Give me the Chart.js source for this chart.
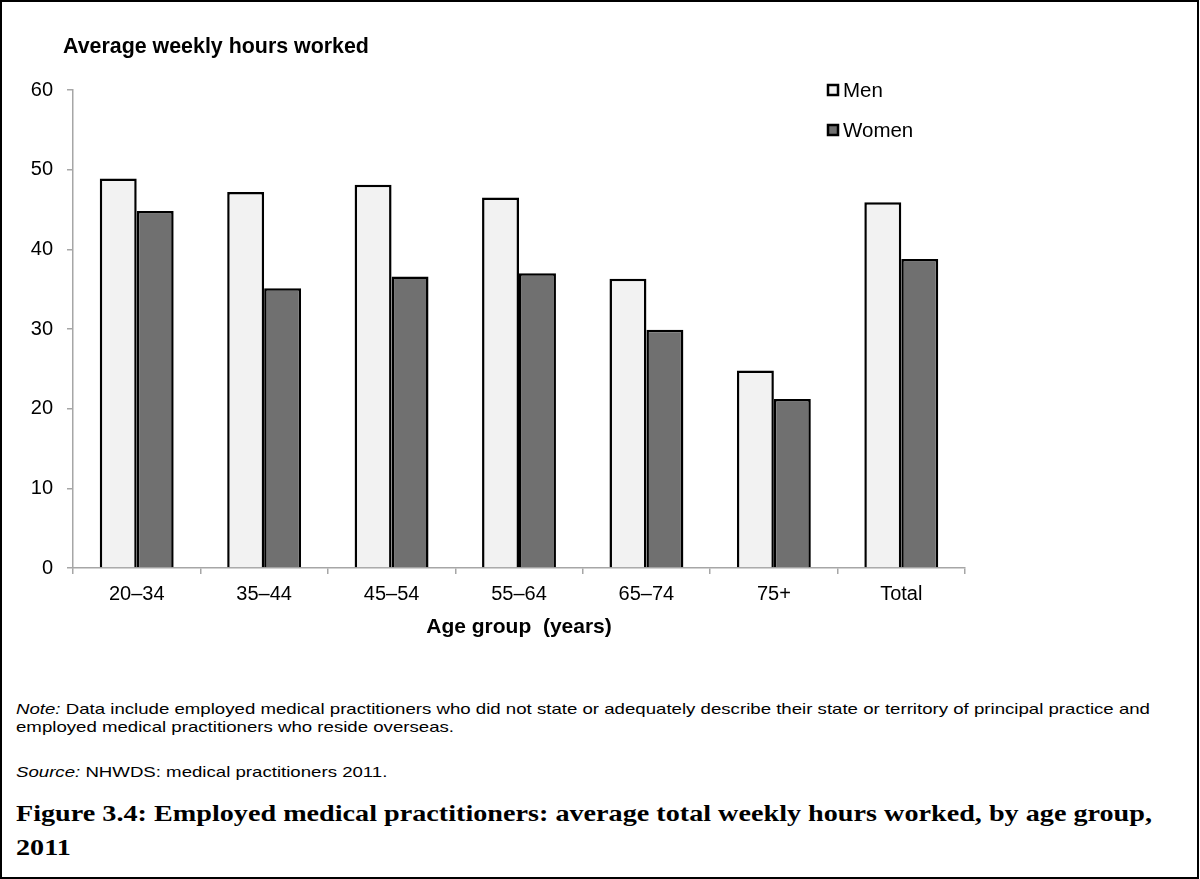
<!DOCTYPE html>
<html>
<head>
<meta charset="utf-8">
<title>Employed medical practitioners: average weekly hours by age group, 2011</title>
<script src="https://cdn.jsdelivr.net/npm/chart.js@4.4.1/dist/chart.umd.min.js"></script>
<style>
  html, body { margin: 0; padding: 0; background: #fff; }
  #frame { position: absolute; left: 0; top: 0; width: 1199px; height: 879px; box-sizing: border-box; border: 2.5px solid #000; }
  #plot { position: absolute; left: 0; top: 0; width: 1200px; height: 660px; }
  .line { position: absolute; left: 16px; white-space: nowrap; transform-origin: 0 0; color: #000; }
  .note { font-family: 'Liberation Sans', Arial, sans-serif; font-size: 15px; line-height: 15px; }
  .fig { font-family: 'Liberation Serif', 'Times New Roman', serif; font-weight: bold; font-size: 22.5px; line-height: 22.5px; }
</style>
</head>
<body>
<div id="frame"></div>
<div id="plot"><canvas id="chart" width="1200" height="660"></canvas></div>

<div class="line note" id="note1" style="top:701px"><i>Note:</i> Data include employed medical practitioners who did not state or adequately describe their state or territory of principal practice and</div>
<div class="line note" id="note2" style="top:719px">employed medical practitioners who reside overseas.</div>
<div class="line note" id="source" style="top:764px"><i>Source:</i> NHWDS: medical practitioners 2011.</div>
<div class="line fig" id="fig1" style="top:803px">Figure 3.4: Employed medical practitioners: average total weekly hours worked, by age group,</div>
<div class="line fig" id="fig2" style="top:837px">2011</div>

<script>
// Age groups and average weekly hours worked
const ageGroups = ['20–34', '35–44', '45–54', '55–64', '65–74', '75+', 'Total'];
const menHours = [48.9, 47.2, 48.1, 46.5, 36.3, 24.8, 45.9];
const womenHours = [44.8, 35.1, 36.6, 37.0, 29.9, 21.2, 38.8];
const hourTicks = [0, 10, 20, 30, 40, 50, 60];
const seriesNames = ['Men', 'Women'];
const yCaption = 'Average weekly hours worked';
const xCaption = 'Age group  (years)';

const SANS = "'Liberation Sans', Arial, sans-serif";
const AXIS_GREY = '#a6a6a6';

// Caption above the value axis
const captionPlugin = {
  id: 'valueCaption',
  afterDraw(chart) {
    const ctx = chart.ctx;
    ctx.save();
    ctx.font = `bold 21.4px ${SANS}`;
    ctx.fillStyle = '#000';
    ctx.textAlign = 'left';
    ctx.textBaseline = 'middle';
    ctx.fillText(yCaption, chart.chartArea.left - 10, chart.chartArea.top - 43);
    ctx.restore();
  }
};

// Key drawn inside the upper right of the plot
const keyPlugin = {
  id: 'seriesKey',
  afterDraw(chart) {
    const ctx = chart.ctx;
    const x0 = chart.chartArea.right - 138;
    const y0 = chart.chartArea.top;
    ctx.save();
    ctx.font = `20.5px ${SANS}`;
    ctx.textAlign = 'left';
    ctx.textBaseline = 'middle';
    chart.data.datasets.forEach((ds, i) => {
      const cy = y0 + i * 40;
      ctx.fillStyle = ds.backgroundColor;
      ctx.fillRect(x0 + 1, cy - 5, 10, 10);
      ctx.lineWidth = 2.5;
      ctx.strokeStyle = '#000';
      ctx.strokeRect(x0 + 1, cy - 5, 10, 10);
      ctx.fillStyle = '#000';
      ctx.fillText(ds.label, x0 + 16, cy + 1);
    });
    ctx.restore();
  }
};

new Chart(document.getElementById('chart'), {
  type: 'bar',
  data: {
    labels: ageGroups,
    datasets: [
      { label: seriesNames[0], data: menHours, backgroundColor: '#f2f2f2', borderColor: '#000', borderWidth: 2.5 },
      { label: seriesNames[1], data: womenHours, backgroundColor: '#707070', borderColor: '#000', borderWidth: 2.5 }
    ]
  },
  options: {
    responsive: false,
    animation: false,
    events: [],
    categoryPercentage: 0.58,
    barPercentage: 1.0,
    layout: { padding: { left: 0, top: 90, right: 235, bottom: 0 } },
    plugins: {
      legend: { display: false },
      tooltip: { enabled: false },
      title: { display: false }
    },
    scales: {
      x: {
        afterFit(scale) { scale.height = 92; },
        grid: { drawOnChartArea: false, drawTicks: true, tickLength: 6, color: AXIS_GREY, lineWidth: 1.5 },
        border: { color: AXIS_GREY, width: 1.5 },
        ticks: { color: '#000', font: { family: SANS, size: 20 }, padding: 8 },
        title: {
          display: true,
          text: xCaption,
          color: '#000',
          font: { family: SANS, size: 21, weight: 'bold' },
          padding: { top: 0, bottom: 20 }
        }
      },
      y: {
        min: 0,
        max: 60,
        afterFit(scale) { scale.width = 73; },
        afterBuildTicks(scale) { scale.ticks = hourTicks.map(v => ({ value: v })); },
        grid: { drawOnChartArea: false, drawTicks: true, tickLength: 6, color: AXIS_GREY, lineWidth: 1.5 },
        border: { color: AXIS_GREY, width: 1.5 },
        ticks: { color: '#000', font: { family: SANS, size: 20 }, padding: 14 }
      }
    }
  },
  plugins: [captionPlugin, keyPlugin]
});

// Stretch each text block to the width of its column
function fitLines(ids, target) {
  const first = document.getElementById(ids[0]);
  const k = target / first.getBoundingClientRect().width;
  ids.forEach(id => { document.getElementById(id).style.transform = `scaleX(${k})`; });
}
fitLines(['note1', 'note2', 'source'], 1134);
fitLines(['fig1', 'fig2'], 1136);
</script>
</body>
</html>
